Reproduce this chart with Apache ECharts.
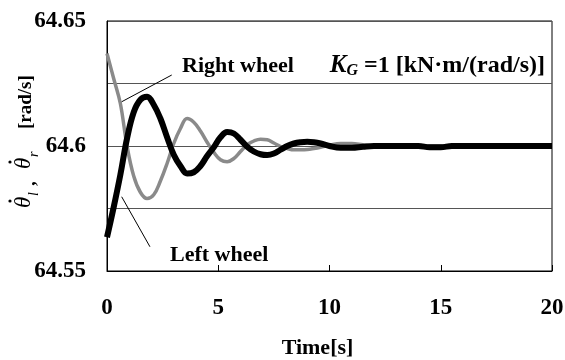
<!DOCTYPE html>
<html>
<head>
<meta charset="utf-8">
<script src="https://cdn.jsdelivr.net/npm/echarts@6/dist/echarts.min.js"></script>
<style>
  html, body { margin: 0; padding: 0; background: #fff; }
  #main { width: 565px; height: 360px; }
</style>
</head>
<body>
<div id="main"></div>
<script>
// time [s]
var time = [0, 0.3, 0.6, 0.9, 1.2, 1.5, 1.8, 2.1, 2.4, 2.7, 3.0, 3.3, 3.6, 3.9, 4.2, 4.5,
  4.8, 5.1, 5.4, 5.7, 6.0, 6.3, 6.6, 6.9, 7.2, 7.5, 7.8, 8.1, 8.4, 8.7, 9.0, 9.3, 9.6,
  10, 10.5, 11, 11.5, 12, 13, 14, 14.5, 15, 15.5, 16, 18, 20];

// right wheel angular velocity [rad/s]
var rightWheel = [64.637, 64.627, 64.617, 64.600, 64.588, 64.5815, 64.579, 64.5805, 64.586,
  64.593, 64.601, 64.607, 64.611, 64.6095, 64.606, 64.6015, 64.5975, 64.5945, 64.5937,
  64.595, 64.5978, 64.6005, 64.602, 64.6027, 64.6025, 64.6012, 64.5998, 64.599, 64.5985,
  64.5985, 64.5986, 64.599, 64.5995, 64.6003, 64.601, 64.601, 64.6005, 64.6, 64.6, 64.6,
  64.6, 64.6, 64.6, 64.6, 64.6, 64.6];

// left wheel angular velocity [rad/s]
var leftWheel = [64.5635, 64.5755, 64.5885, 64.603, 64.6135, 64.6185, 64.6197, 64.6165,
  64.611, 64.6035, 64.5965, 64.592, 64.589, 64.5895, 64.592, 64.596, 64.5995, 64.6035,
  64.6056, 64.605, 64.6025, 64.5997, 64.5978, 64.5967, 64.5964, 64.597, 64.5985, 64.6,
  64.601, 64.6015, 64.6017, 64.6015, 64.601, 64.6, 64.5993, 64.5993, 64.5997, 64.6, 64.6,
  64.6, 64.5995, 64.5995, 64.6, 64.6, 64.6, 64.6];

var yLabels = ['64.55', '64.6', '64.65'];

var serif = '"Liberation Serif", "Times New Roman", serif';

function pairs(xs, ys) {
  return xs.map(function (x, i) { return [x, ys[i]]; });
}

// y axis title, drawn rotated so the dots can sit above the thetas
function txt(s, x, y, font, align) {
  return {
    type: 'text', x: x, y: y,
    style: { text: s, font: font, fill: '#000', align: align || 'left', verticalAlign: 'middle' }
  };
}
function dot(x, y) {
  return { type: 'circle', shape: { cx: x, cy: y, r: 1.6 }, style: { fill: '#000' } };
}
var thetaFont = 'italic 23px ' + serif;
var subFont = 'italic 14px ' + serif;
var yTitle = {
  type: 'group',
  x: 27, y: 146,
  rotation: Math.PI / 2,
  children: [
    txt('θ', -62, -3, thetaFont),
    txt('l', -50, 7, subFont),
    dot(-55, -17),
    txt(',', -40, 3, 'bold 19px ' + serif),
    txt('θ', -23, -3, thetaFont),
    txt('r', -11, 7, subFont),
    dot(-16, -17),
    txt('[rad/s]', 17, -1, 'bold 19px ' + serif)
  ]
};

var chart = echarts.init(document.getElementById('main'));

var option = {
  animation: false,
  backgroundColor: '#fff',
  grid: {
    left: 107, right: 13, top: 21, bottom: 89,
    outerBoundsMode: 'none',
    show: true, borderColor: '#000', borderWidth: 1, backgroundColor: 'transparent'
  },
  xAxis: {
    type: 'value',
    min: 0, max: 20, interval: 5,
    name: 'Time[s]',
    nameLocation: 'middle',
    nameGap: 66,
    nameTextStyle: {
      fontFamily: serif, fontSize: 22, fontWeight: 'bold', color: '#000',
      padding: [0, 24, 0, 0]
    },
    axisLine: { show: true, lineStyle: { color: '#000', width: 1 } },
    axisTick: { show: true, inside: true, length: 6, lineStyle: { color: '#000' } },
    axisLabel: { margin: 26, fontFamily: serif, fontSize: 23, fontWeight: 'bold', color: '#000' },
    splitLine: { show: false }
  },
  yAxis: {
    type: 'value',
    min: 64.55, max: 64.65, interval: 0.025,
    axisLine: { show: true, lineStyle: { color: '#000', width: 1 } },
    axisTick: { show: false },
    axisLabel: {
      margin: 21, fontFamily: serif, fontSize: 23, fontWeight: 'bold', color: '#000',
      formatter: function (v) {
        var s = String(+v.toFixed(3));
        return yLabels.indexOf(s) >= 0 ? s : '';
      }
    },
    splitLine: { show: true, lineStyle: { color: '#555', width: 1 } }
  },
  series: [
    {
      name: 'Right wheel',
      type: 'line',
      data: pairs(time, rightWheel),
      smooth: 0.4,
      showSymbol: false,
      lineStyle: { color: '#8a8a8a', width: 3.5 },
      z: 2,
      markLine: {
        silent: true,
        symbol: ['none', 'none'],
        label: { show: false },
        lineStyle: { color: '#000', width: 1, type: 'solid' },
        data: [
          [{ coord: [2.91, 64.6284] }, { coord: [0.66, 64.6177] }],
          [{ coord: [0.66, 64.5797] }, { coord: [1.93, 64.5597] }]
        ]
      }
    },
    {
      name: 'Left wheel',
      type: 'line',
      data: pairs(time, leftWheel),
      smooth: 0.4,
      showSymbol: false,
      lineStyle: { color: '#000', width: 6 },
      z: 3
    }
  ],
  graphic: [
    yTitle,
    {
      type: 'text', x: 182, y: 66,
      style: { text: 'Right wheel', font: 'bold 22px ' + serif, fill: '#000', verticalAlign: 'middle' }
    },
    {
      type: 'text', x: 170, y: 255,
      style: { text: 'Left wheel', font: 'bold 22px ' + serif, fill: '#000', verticalAlign: 'middle' }
    },
    {
      type: 'text', x: 545, y: 66,
      style: {
        text: '{k|K}{g|G}{n| =1 [kN·m/(rad/s)]}',
        align: 'right', verticalAlign: 'middle',
        rich: {
          k: { fontFamily: serif, fontSize: 25, fontStyle: 'italic', fontWeight: 'bold', fill: '#000' },
          g: { fontFamily: serif, fontSize: 16, fontStyle: 'italic', fontWeight: 'bold', fill: '#000', verticalAlign: 'bottom', padding: [8, 0, 0, 0] },
          n: { fontFamily: serif, fontSize: 24, fontWeight: 'bold', fill: '#000' }
        }
      }
    }
  ]
};

chart.setOption(option);
</script>
</body>
</html>
